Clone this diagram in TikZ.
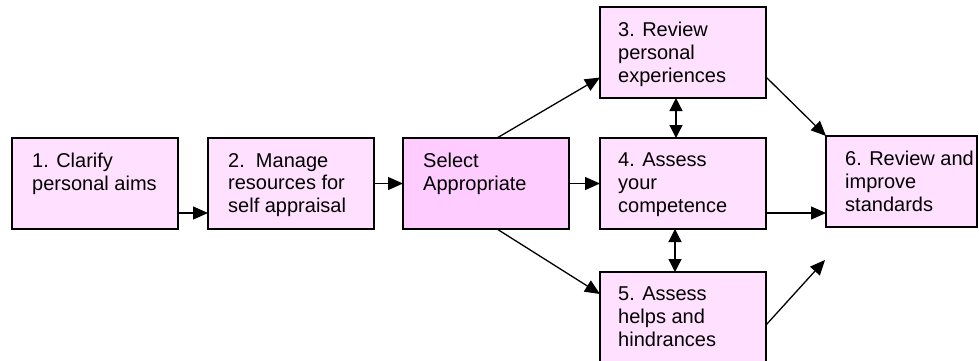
\documentclass[tikz,border=0pt]{standalone}
\usepackage{fontspec}
\setmainfont{Liberation Sans}
\usetikzlibrary{arrows.meta,calc}
\definecolor{boxfill}{RGB}{255,224,255}
\definecolor{selfill}{RGB}{255,204,255}
\tikzset{
  box/.style={draw=black, line width=1.4pt, fill=boxfill, rectangle, anchor=north west,
    minimum width=166pt, minimum height=91pt, inner sep=0pt, outer sep=0pt},
  txt/.style={anchor=north west, inner sep=0pt, align=left,
    font=\fontsize{20}{22.8}\selectfont},
  arr/.style={line width=1.3pt, -{Triangle[length=15pt,width=13pt]}},
  darr/.style={line width=1.3pt, {Triangle[length=13pt,width=13pt]}-{Triangle[length=13pt,width=13pt]}}
}
\begin{document}
\begin{tikzpicture}[x=1pt,y=-1pt]
\useasboundingbox (0,0) rectangle (979,360);
\clip (0,0) rectangle (979,360);
\node[box] (b1) at (12,138) {};
\node[box] (b2) at (208,138) {};
\node[box, fill=selfill] (sel) at (403,138) {};
\node[box] (b3) at (600,7) {};
\node[box] (b4) at (600,138) {};
\node[box] (b5) at (600,272) {};
\node[box, minimum width=151pt] (b6) at (826,136) {};
\node[txt] (t1) at ([xshift=20pt,yshift=-15pt]b1.north west) {1. Clarify\\personal aims};
\node[txt] (t2) at ([xshift=20pt,yshift=-15pt]b2.north west) {2.\ \ Manage\\resources for\\self appraisal};
\node[txt] (ts) at ([xshift=20pt,yshift=-15pt]sel.north west) {Select\\Appropriate};
\node[txt] (t3) at ([xshift=18pt,yshift=-15pt]b3.north west) {3. Review\\personal\\experiences};
\node[txt] (t4) at ([xshift=18pt,yshift=-15pt]b4.north west) {4. Assess\\your\\competence};
\node[txt] (t5) at ([xshift=18pt,yshift=-15pt]b5.north west) {5. Assess\\helps and\\hindrances};
\node[txt] (t6) at ([xshift=19pt,yshift=-15pt]b6.north west) {6. Review and\\improve\\standards};
\coordinate (c56) at (825,260);
\draw[arr] ([yshift=-29.5pt]b1.east) -- ([yshift=-29.5pt]b1.east -| b2.west);
\draw[arr] (b2.east) -- (b2.east -| sel.west);
\draw[arr] (sel.east) -- (sel.east -| b4.west);
\draw[arr] ([yshift=-29.5pt]b4.east) -- ([yshift=-29.5pt]b4.east -| b6.west);
\draw[arr] ([xshift=11pt]sel.north) -- ([yshift=-25pt]b3.west);
\draw[arr] ([xshift=11pt]sel.south) -- ([yshift=23.5pt]b5.west);
\draw[darr] ([xshift=-7pt]b3.south) -- ([xshift=-7pt]b4.north);
\draw[darr] ([xshift=-8pt]b4.south) -- ([xshift=-8pt]b5.north);
\draw[arr] ([yshift=-24.5pt]b3.east) -- (b6.north west);
\draw[arr] ([yshift=-7.5pt]b5.east) -- (c56);
\end{tikzpicture}
\end{document}
